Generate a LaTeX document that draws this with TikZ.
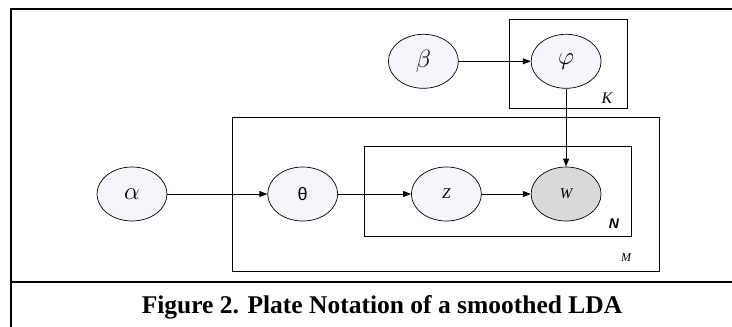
\documentclass[tikz,border=0pt]{standalone}
\usepackage{fontspec}
\setmainfont{Liberation Serif}
\setsansfont{Liberation Sans}
\usepackage{xcolor}
\usepackage{tikz}
\usetikzlibrary{positioning, arrows.meta, shapes.geometric}

\definecolor{ovalfill}{RGB}{244,246,251}
\definecolor{obsgray}{RGB}{217,217,217}

\begin{document}
\begin{tikzpicture}[x=1pt, y=-1pt,
  var/.style={draw, ellipse, minimum width=70pt, minimum height=54pt,
              inner sep=0pt, fill=ovalfill, line width=0.7pt},
  obs/.style={var, fill=obsgray},
  greek/.style={font=\fontsize{24}{24}\selectfont},
  small/.style={font=\fontsize{15}{15}\selectfont\itshape},
  plate/.style={draw, line width=0.8pt},
  arrow/.style={-{Triangle[length=8pt, width=6pt]}, line width=0.9pt},
  frame/.style={line width=2.6pt},
  node distance=102pt]
  \useasboundingbox (0,0) rectangle (732,327);
  % outer table frame
  \draw[frame] (11,327) -- (11,9) -- (732,9);
  \draw[frame] (11,282) -- (732,282);
  % plates
  \draw[plate] (232,117) rectangle (659,271);
  \draw[plate] (364,146) rectangle (631,236);
  \draw[plate] (509,19) rectangle (627,108);
  \node[font=\fontsize{16}{16}\selectfont\itshape] (klabel) at (607,98) {K};
  \node[font=\fontsize{14}{14}\selectfont\sffamily\bfseries\itshape] (nlabel) at (614,224) {N};
  \node[font=\fontsize{12}{12}\selectfont\itshape] (mlabel) at (626,258) {M};
  % variables
  \node[var, greek] (alpha) at (132,194) {$\alpha$};
  \node[var, right=100pt of alpha, font=\fontsize{18}{18}\selectfont\sffamily] (theta) {θ};
  \node[var, small, right=73pt of theta] (z) {Z};
  \node[obs, small, right=49pt of z] (w) {W};
  \node[var, greek, above=78pt of w] (phi) {$\varphi$};
  \node[var, greek, left=72pt of phi] (beta) {$\beta$};
  % edges
  \draw[arrow] (alpha) -- (theta);
  \draw[arrow] (theta) -- (z);
  \draw[arrow] (z) -- (w);
  \draw[arrow] (beta) -- (phi);
  \draw[arrow] (phi) -- (w);
  % caption
  \node[font=\fontsize{25.5}{25.5}\selectfont\bfseries, anchor=base] (caption) at (382,313)
    {Figure 2. Plate Notation of a smoothed LDA};
\end{tikzpicture}
\end{document}
